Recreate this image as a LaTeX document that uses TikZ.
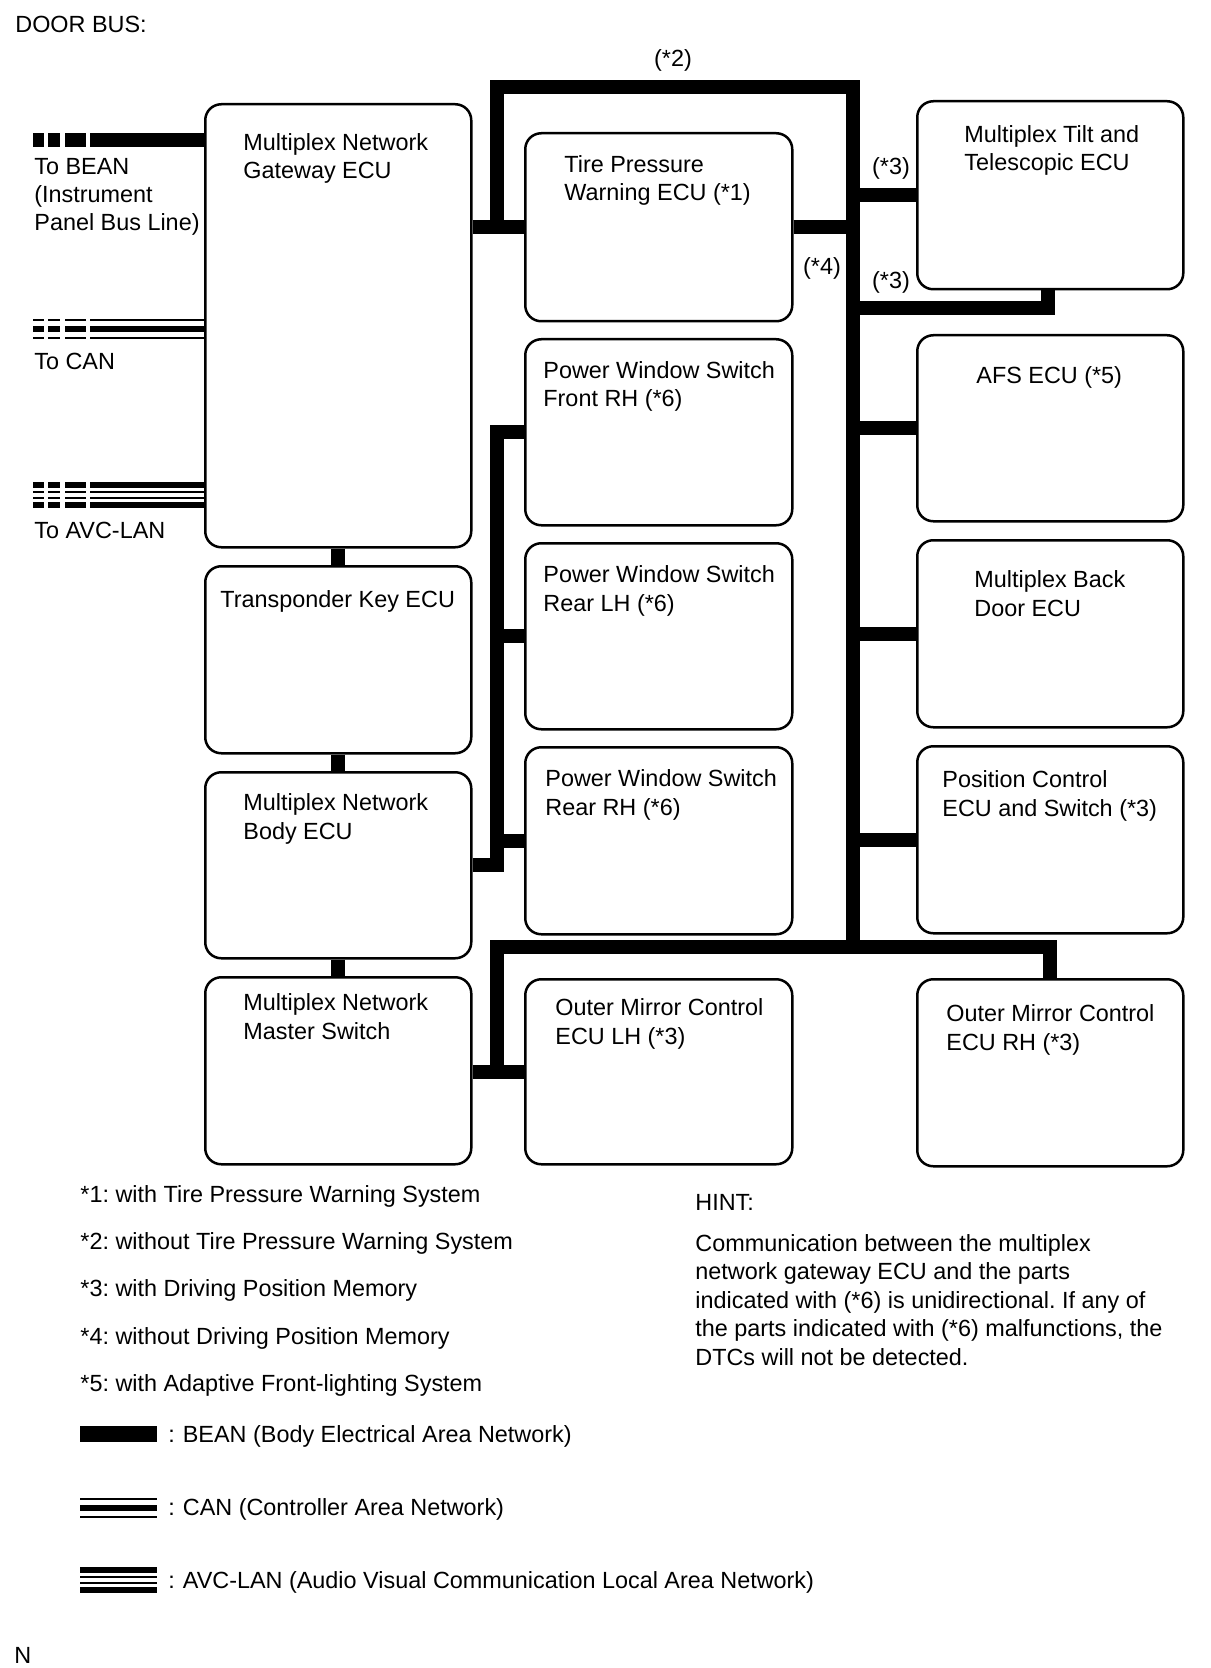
\documentclass[tikz,border=0pt]{standalone}
\usepackage{fontspec}
\setmainfont{Liberation Sans}
\frenchspacing
\begin{document}
\begin{tikzpicture}[x=0.5pt,y=-0.5pt,
  box/.style={draw, line width=1.25pt, rounded corners=8pt, inner sep=0pt, anchor=north west},
  lbl/.style={anchor=base west, inner sep=0pt, align=left, font=\fontsize{11.7pt}{14.2pt}\selectfont},
  note/.style={anchor=center, inner sep=0pt, font=\fontsize{11.7pt}{14.2pt}\selectfont},
  bus/.style={line width=7pt, line join=miter},
  thinln/.style={line width=1.2pt},
  thickln/.style={line width=3pt},
]
\useasboundingbox (0,0) rectangle (1210,1668);

% ---------- boxes ----------
\node[box, minimum width=133pt, minimum height=221.5pt] (gw) at (204,103) {};
\node[box, minimum width=133pt, minimum height=93.5pt] (tk) at (204,565) {};
\node[box, minimum width=133pt, minimum height=93pt] (body) at (204,771) {};
\node[box, minimum width=133pt, minimum height=93.5pt] (master) at (204,976) {};

\node[box, minimum width=133.5pt, minimum height=94pt] (tpw) at (524,132) {};
\node[box, minimum width=133.5pt, minimum height=93pt] (pwsfr) at (524,338) {};
\node[box, minimum width=133.5pt, minimum height=93pt] (pwsrl) at (524,542) {};
\node[box, minimum width=133.5pt, minimum height=93.5pt] (pwsrr) at (524,746) {};
\node[box, minimum width=133.5pt, minimum height=92.5pt] (oml) at (524,978) {};

\node[box, minimum width=133pt, minimum height=94pt] (tilt) at (916,100) {};
\node[box, minimum width=133pt, minimum height=93pt] (afs) at (916,334) {};
\node[box, minimum width=133pt, minimum height=93.5pt] (bd) at (916,539) {};
\node[box, minimum width=133pt, minimum height=93.5pt] (pc) at (916,745) {};
\node[box, minimum width=133pt, minimum height=93.5pt] (omr) at (916,978) {};

% ---------- box texts (base = baseline of last line) ----------
\node[lbl] (gwt) at (243,179) {Multiplex Network\\Gateway ECU};
\node[lbl] (tkt) at (220,607) {Transponder Key ECU};
\node[lbl] (bodyt) at (243,839) {Multiplex Network\\Body ECU};
\node[lbl] (mastert) at (243,1039) {Multiplex Network\\Master Switch};
\node[lbl] (tpwt) at (564,201) {Tire Pressure\\Warning ECU (*1)};
\node[lbl] (pwsfrt) at (543,407) {Power Window Switch\\Front RH (*6)};
\node[lbl] (pwsrlt) at (543,611) {Power Window Switch\\Rear LH (*6)};
\node[lbl] (pwsrrt) at (545,815) {Power Window Switch\\Rear RH (*6)};
\node[lbl] (omlt) at (555,1044) {Outer Mirror Control\\ECU LH (*3)};
\node[lbl] (tiltt) at (964,171) {Multiplex Tilt and\\Telescopic ECU};
\node[lbl] (afst) at (976,384) {AFS ECU (*5)};
\node[lbl] (bdt) at (974,616) {Multiplex Back\\Door ECU};
\node[lbl] (pct) at (942,816) {Position Control\\ECU and Switch (*3)};
\node[lbl] (omrt) at (946,1050) {Outer Mirror Control\\ECU RH (*3)};

% ---------- bus network ----------
\coordinate (loopL) at (497,87);
\coordinate (busTop) at (853,87);
\coordinate (busBot) at (853,947);
\coordinate (botL) at (497,947);
\coordinate (botR) at (1050,947);
\coordinate (t2) at (1048,308);
\coordinate (pwsTop) at (497,431);

\draw[bus] (gw.south) -- (tk.north);
\draw[bus] (tk.south) -- (body.north);
\draw[bus] (body.south) -- (master.north);

\draw[bus] (gw.east |- tpw.west) -- (tpw.west);
\draw[bus] (loopL |- tpw.west) -- (loopL) -- (busTop) -- (busBot);
\draw[bus] (tpw.east) -- (tpw.east -| busTop);
\draw[bus] (busTop |- tilt.west) -- (tilt.west);
\draw[bus] (busTop |- t2) -- (t2) -- (t2 |- tilt.south);
\draw[bus] (busTop |- afs.west) -- (afs.west);
\draw[bus] (busTop |- bd.west) -- (bd.west);
\draw[bus] (busTop |- pc.west) -- (pc.west);

\draw[bus] (botL |- oml.west) -- (botL) -- (botR) -- (botR |- omr.north);
\draw[bus] (master.east |- oml.west) -- (oml.west);

\draw[bus] (pwsfr.west) -- (pwsfr.west -| pwsTop) -- (pwsTop |- body.east) -- (body.east);
\draw[bus] (pwsTop |- pwsrl.west) -- (pwsrl.west);
\draw[bus] (pwsTop |- pwsrr.west) -- (pwsrr.west);

% ---------- bus labels ----------
\node[note] (l2) at (673,60) {(*2)};
\node[note] (l4) at (822,268) {(*4)};
\node[note] (l3a) at (891,168) {(*3)};
\node[note] (l3b) at (891,282) {(*3)};

% ---------- left external lines ----------
% BEAN
\foreach \a/\b in {33/44,48/60,65/86} \fill (\a,133) rectangle (\b,147);
\coordinate (beanS) at (90,140);
\draw[line width=7pt] (beanS) -- (beanS -| gw.west);
% CAN
\foreach \a/\b in {33/44,48/60,65/86} {
  \draw[thinln] (\a,320) -- (\b,320);
  \draw[thickln] (\a,329) -- (\b,329);
  \draw[thinln] (\a,338) -- (\b,338);
}
\coordinate (canS) at (90,329);
\draw[thinln] (canS |- 0,320) -- (gw.west |- 0,320);
\draw[thickln] (canS) -- (canS -| gw.west);
\draw[thinln] (canS |- 0,338) -- (gw.west |- 0,338);
% AVC-LAN
\foreach \a/\b in {33/44,48/60,65/86} {
  \draw[thickln] (\a,485) -- (\b,485);
  \draw[thinln] (\a,492) -- (\b,492);
  \draw[thinln] (\a,498) -- (\b,498);
  \draw[thickln] (\a,505) -- (\b,505);
}
\coordinate (avcS) at (90,495);
\draw[thickln] (avcS |- 0,485) -- (gw.west |- 0,485);
\draw[thinln] (avcS |- 0,492) -- (gw.west |- 0,492);
\draw[thinln] (avcS |- 0,498) -- (gw.west |- 0,498);
\draw[thickln] (avcS |- 0,505) -- (gw.west |- 0,505);

\node[lbl] (tobean) at (34,231) {To BEAN\\(Instrument\\Panel Bus Line)};
\node[lbl] (tocan) at (34,370) {To CAN};
\node[lbl] (toavc) at (34,538) {To AVC-LAN};

% ---------- title and footer ----------
\node[lbl] (title) at (15,33) {DOOR BUS:};
\node[lbl] (nmark) at (14,1663) {N};

% ---------- notes ----------
\node[lbl] (n1) at (80,1202) {*1: with Tire Pressure Warning System};
\node[lbl] (n2) at (80,1249) {*2: without Tire Pressure Warning System};
\node[lbl] (n3) at (80,1296) {*3: with Driving Position Memory};
\node[lbl] (n4) at (80,1344) {*4: without Driving Position Memory};
\node[lbl] (n5) at (80,1391) {*5: with Adaptive Front-lighting System};

% ---------- legend ----------
\fill (80,1426) rectangle (157,1442);
\node[lbl] (lg1) at (168,1442) {:\hspace{4pt}BEAN (Body Electrical Area Network)};
\draw[thinln] (80,1499) -- (157,1499);
\draw[thickln] (80,1508) -- (157,1508);
\draw[thinln] (80,1517) -- (157,1517);
\node[lbl] (lg2) at (168,1515) {:\hspace{4pt}CAN (Controller Area Network)};
\draw[thickln] (80,1570) -- (157,1570);
\draw[thinln] (80,1577) -- (157,1577);
\draw[thinln] (80,1583) -- (157,1583);
\draw[thickln] (80,1590) -- (157,1590);
\node[lbl] (lg3) at (168,1588) {:\hspace{4pt}AVC-LAN (Audio Visual Communication Local Area Network)};

% ---------- hint ----------
\node[lbl] (hint) at (695,1210) {HINT:};
\node[lbl] (hintp) at (695,1365) {Communication between the multiplex\\network gateway ECU and the parts\\indicated with (*6) is unidirectional. If any of\\the parts indicated with (*6) malfunctions, the\\DTCs will not be detected.};
\end{tikzpicture}
\end{document}
